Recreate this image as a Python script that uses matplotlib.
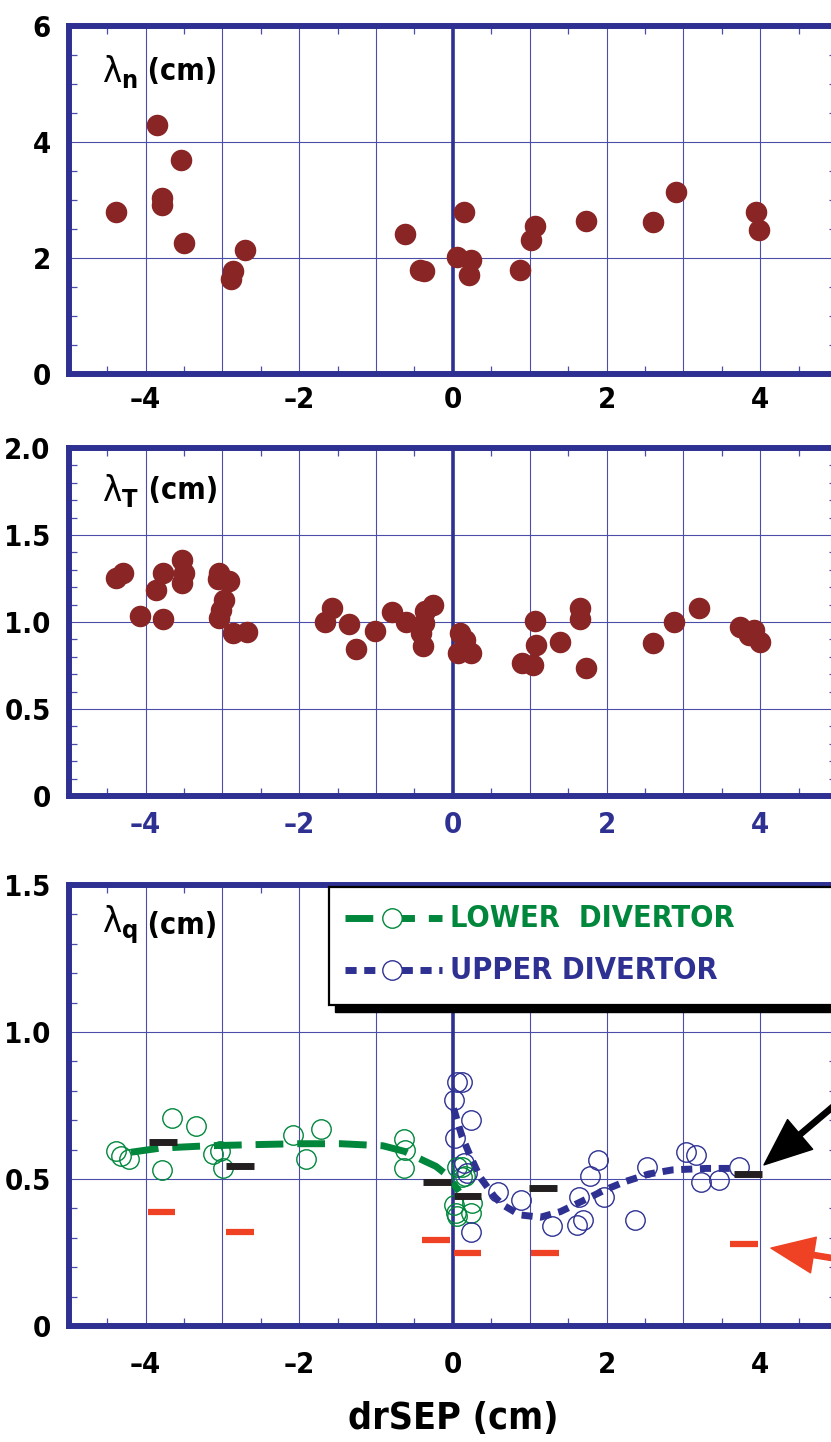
import matplotlib
matplotlib.use('Agg')
import matplotlib.pyplot as plt
from matplotlib.lines import Line2D
from matplotlib.patches import Rectangle
from matplotlib.ticker import MultipleLocator, FuncFormatter

plt.rcParams['font.family'] = ['DejaVu Sans']
plt.rcParams['font.stretch'] = 'condensed'
plt.rcParams['font.weight'] = 'bold'
plt.rcParams['mathtext.fontset'] = 'custom'
plt.rcParams['mathtext.rm'] = 'DejaVu Sans:weight=normal'
plt.rcParams['mathtext.it'] = 'DejaVu Sans:italic:weight=normal'
plt.rcParams['mathtext.bf'] = 'DejaVu Sans:weight=bold'

NAVY = '#2e3192'
GRID = '#4a4ea8'
DOT = '#8a2525'
GREEN = '#00873c'
BLUE = '#2e3192'
RED = '#ef4123'

# ---- panel 1: lambda_n ----
ln_x = [-4.39, -3.85, -3.54, -3.78, -3.78, -3.50, -2.70, -2.86, -2.89,
        -0.62, -0.43, -0.38, 0.05, 0.14, 0.24, 0.21, 0.88, 1.02, 1.07,
        1.73, 2.61, 2.91, 3.95, 3.99]
ln_y = [2.80, 4.30, 3.69, 3.03, 2.91, 2.26, 2.14, 1.78, 1.63,
        2.41, 1.79, 1.78, 2.02, 2.79, 1.97, 1.71, 1.80, 2.31, 2.56,
        2.63, 2.62, 3.13, 2.80, 2.48]

# ---- panel 2: lambda_T ----
lt_x = [-4.39, -4.29, -4.07, -3.86, -3.77, -3.77, -3.52, -3.50, -3.52,
        -3.05, -3.06, -2.92, -2.98, -3.02, -3.05, -2.86, -2.68,
        -1.66, -1.57, -1.35, -1.26, -1.01, -0.79, -0.61, -0.41, -0.39,
        -0.36, -0.38, -0.26, 0.09, 0.07, 0.16, 0.23, 0.90, 1.04, 1.07,
        1.08, 1.39, 1.66, 1.66, 1.73, 2.61, 2.88, 3.21, 3.74, 3.92, 3.85, 4.00]
lt_y = [1.251, 1.280, 1.036, 1.184, 1.280, 1.015, 1.356, 1.280, 1.222,
        1.280, 1.245, 1.238, 1.126, 1.069, 1.021, 0.935, 0.941,
        1.002, 1.082, 0.987, 0.847, 0.948, 1.059, 1.002, 0.935, 0.862,
        1.063, 0.992, 1.098, 0.935, 0.820, 0.897, 0.824, 0.762, 0.753, 1.008,
        0.868, 0.887, 1.079, 1.017, 0.738, 0.877, 1.002, 1.079, 0.973, 0.954, 0.925, 0.887]

# ---- panel 3: lambda_q ----
lower_x = [-4.39, -4.32, -4.22, -3.65, -3.34, -3.79, -3.12, -3.03, -2.99,
           -2.08, -1.72, -1.91, -0.64, -0.62, -0.64, 0.06, 0.12, 0.16,
           0.01, 0.04, 0.24, 0.25, 0.12, 0.06]
lower_y = [0.594, 0.579, 0.568, 0.707, 0.681, 0.532, 0.586, 0.594, 0.537,
           0.651, 0.669, 0.568, 0.635, 0.599, 0.536, 0.542, 0.508, 0.510,
           0.410, 0.383, 0.383, 0.419, 0.540, 0.373]
upper_x = [0.06, 0.12, 0.02, 0.24, 0.03, 0.14, 0.18, 0.59, 0.89, 1.29,
           1.64, 1.69, 1.62, 1.79, 1.89, 1.97, 2.37, 2.53, 3.03, 3.16,
           3.23, 3.47, 3.72, 0.23]
upper_y = [0.831, 0.829, 0.769, 0.701, 0.638, 0.553, 0.520, 0.457, 0.429, 0.341,
           0.440, 0.361, 0.344, 0.510, 0.565, 0.440, 0.361, 0.542, 0.593, 0.582,
           0.491, 0.497, 0.542, 0.321]

lower_fit_x = [-4.19, -3.81, -3.19, -2.57, -2.01, -1.46, -0.91, -0.63, -0.36, -0.22, -0.05, 0.08]
lower_fit_y = [0.591, 0.605, 0.613, 0.617, 0.620, 0.620, 0.613, 0.594, 0.560, 0.543, 0.508, 0.457]
upper_fit_x = [0.01, 0.12, 0.23, 0.35, 0.54, 0.65, 0.87, 1.14, 1.40, 1.67, 1.98, 2.24, 2.55, 2.86, 3.30, 3.65]
upper_fit_y = [0.740, 0.644, 0.576, 0.508, 0.440, 0.412, 0.378, 0.370, 0.389, 0.423, 0.463, 0.491, 0.517, 0.531, 0.536, 0.536]

black_x = [-3.77, -2.77, -0.21, 0.19, 1.17, 3.84]
black_y = [0.625, 0.543, 0.491, 0.442, 0.468, 0.516]
red_x = [-3.79, -2.77, -0.22, 0.19, 1.20, 3.79]
red_y = [0.388, 0.320, 0.293, 0.247, 0.247, 0.279]
BAR_W = 0.36

W, H = 831, 1442
fig = plt.figure(figsize=(W / 100, H / 100), dpi=100)
LEFT, RIGHT = 68.7, 837.0
TICK_FS = 21


def even_label(v, pos):
    iv = int(round(v))
    if abs(v - iv) < 1e-6 and iv % 2 == 0:
        return '\u2013%d' % -iv if iv < 0 else '%d' % iv
    return ''


def make_axes(top, bottom, ylim, ymaj, ymin, int_labels, xcolor, xpad):
    ax = fig.add_axes([LEFT / W, 1 - bottom / H, (RIGHT - LEFT) / W, (bottom - top) / H])
    ax.set_xlim(-5, 5)
    ax.set_ylim(*ylim)
    ax.xaxis.set_major_locator(MultipleLocator(1))
    ax.xaxis.set_minor_locator(MultipleLocator(0.5))
    ax.yaxis.set_major_locator(MultipleLocator(ymaj))
    ax.yaxis.set_minor_locator(MultipleLocator(ymin))
    ax.xaxis.set_major_formatter(FuncFormatter(even_label))
    if int_labels:
        ax.yaxis.set_major_formatter(FuncFormatter(lambda v, p: '%d' % round(v)))
    else:
        ax.yaxis.set_major_formatter(FuncFormatter(lambda v, p: '0' if abs(v) < 1e-9 else '%.1f' % v))
    ax.grid(True, which='major', color=GRID, lw=0.8)
    ax.axvline(0, color=NAVY, lw=2.6, zorder=1.5)
    for s in ax.spines.values():
        s.set_color(NAVY)
        s.set_linewidth(4.3)
    ax.tick_params(which='major', length=0, labelsize=TICK_FS)
    ax.tick_params(axis='y', which='major', pad=13)
    ax.tick_params(axis='x', which='major', pad=xpad, labelcolor=xcolor)
    ax.tick_params(which='minor', direction='in', length=5.8, width=0.9, color=GRID,
                   top=True, right=True, bottom=True, left=True)
    ax.set_axisbelow(True)
    return ax


def panel_title(ax, y, sub):
    sym = ax.text(0.043, y, r'$\mathrm{\lambda}_\mathbf{%s}$' % sub, transform=ax.transAxes,
                  fontsize=26, ha='left', va='center')
    ax.annotate(' (cm)', xy=(1.0, 0.5), xycoords=sym, fontsize=22, ha='left', va='center')


ax1 = make_axes(26, 374, (0, 6), 2, 0.5, True, 'black', 9)
ax1.plot(ln_x, ln_y, 'o', color=DOT, ms=14.5, mec=DOT, zorder=3, clip_on=False)
panel_title(ax1, 0.868, 'n')

ax2 = make_axes(448, 796, (0, 2), 0.5, 0.1, False, NAVY, 11)
ax2.plot(lt_x, lt_y, 'o', color=DOT, ms=14.5, mec=DOT, zorder=3, clip_on=False)
panel_title(ax2, 0.879, 'T')

ax3 = make_axes(885, 1326, (0, 1.5), 0.5, 0.1, False, 'black', 18)
ax3.plot(lower_fit_x, lower_fit_y, color=GREEN, lw=5, dashes=(4, 2), dash_capstyle='butt', zorder=3)
ax3.plot(upper_fit_x, upper_fit_y, color=BLUE, lw=5, dashes=(1.6, 1.1), dash_capstyle='butt', zorder=3)
ax3.plot(lower_x, lower_y, 'o', mfc='none', mec=GREEN, mew=1.0, ms=14, zorder=4)
ax3.plot(upper_x, upper_y, 'o', mfc='none', mec=BLUE, mew=1.0, ms=14, zorder=4)
ax3.hlines(black_y, [x - BAR_W / 2 for x in black_x], [x + BAR_W / 2 for x in black_x],
           color='#231f20', lw=5, zorder=5)
ax3.hlines(red_y, [x - BAR_W / 2 for x in red_x], [x + BAR_W / 2 for x in red_x],
           color=RED, lw=4.5, zorder=5)
panel_title(ax3, 0.909, 'q')
ax3.set_xlabel('drSEP (cm)', fontsize=27, fontweight='bold', labelpad=16)

# arrows coming in from the right
ax3.annotate('', xy=(4.05, 0.548), xytext=(5.6, 0.89), annotation_clip=False,
             arrowprops=dict(facecolor='black', edgecolor='black', width=3.8,
                             headwidth=28, headlength=34, shrink=0))
ax3.annotate('', xy=(4.14, 0.265), xytext=(5.9, 0.19), annotation_clip=False,
             arrowprops=dict(facecolor=RED, edgecolor=RED, width=3.8,
                             headwidth=26, headlength=31, shrink=0))

# legend box
bx0, by0, bx1, by1 = 0.339, 0.728, 1.05, 0.995
ax3.add_patch(Rectangle((bx0 + 0.008, by0 - 0.016), bx1 - bx0, by1 - by0, transform=ax3.transAxes,
                        facecolor='black', edgecolor='black', clip_on=False, zorder=8))
ax3.add_patch(Rectangle((bx0, by0), bx1 - bx0, by1 - by0, transform=ax3.transAxes,
                        facecolor='white', edgecolor='black', lw=1.6, clip_on=False, zorder=9))
for yy, col, dsh, name in [(0.925, GREEN, (4, 2), 'LOWER  DIVERTOR'),
                           (0.807, BLUE, (1.6, 1.1), 'UPPER DIVERTOR')]:
    ax3.add_line(Line2D([0.360, 0.486], [yy, yy], transform=ax3.transAxes, color=col, lw=5,
                        dashes=dsh, dash_capstyle='butt', clip_on=False, zorder=10))
    ax3.add_line(Line2D([0.421], [yy], transform=ax3.transAxes, marker='o', ms=14,
                        mfc='white', mec=col, mew=1.0, clip_on=False, zorder=11))
    ax3.text(0.496, yy, name, transform=ax3.transAxes, color=col, fontsize=22,
             ha='left', va='center', zorder=11)

fig.savefig('out.png', dpi=100)
